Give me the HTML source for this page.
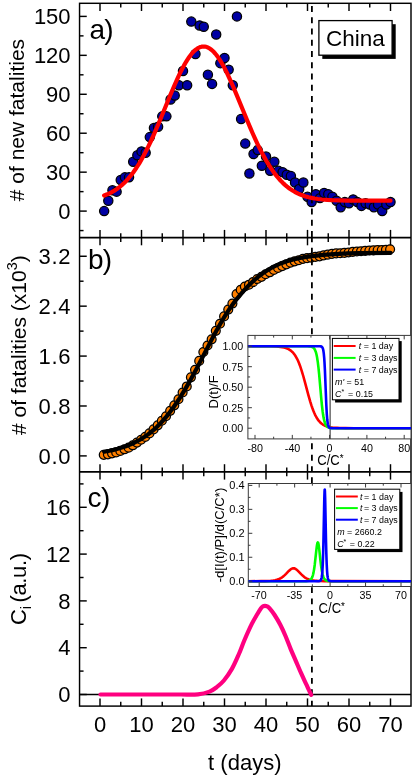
<!DOCTYPE html>
<html>
<head>
<meta charset="utf-8">
<title>China fatalities</title>
<style>
html,body{margin:0;padding:0;background:#fff;}
body{width:415px;height:778px;overflow:hidden;font-family:"Liberation Sans", sans-serif;}
svg{display:block;font-family:"Liberation Sans", sans-serif;will-change:transform;}
svg text{font-family:"Liberation Sans", sans-serif;}
</style>
</head>
<body>
<svg width="415" height="778" viewBox="0 0 415 778">
<rect x="0" y="0" width="415" height="778" fill="#fff"/>
<line x1="79.55" y1="694.5" x2="411" y2="694.5" stroke="#000" stroke-width="1.4" />
<circle cx="104.15" cy="211.1" r="4.62" fill="#0000a4" stroke="#000" stroke-width="1.25"/>
<circle cx="108.3" cy="200.72" r="4.62" fill="#0000a4" stroke="#000" stroke-width="1.25"/>
<circle cx="112.45" cy="190.33" r="4.62" fill="#0000a4" stroke="#000" stroke-width="1.25"/>
<circle cx="116.6" cy="191.63" r="4.62" fill="#0000a4" stroke="#000" stroke-width="1.25"/>
<circle cx="120.75" cy="179.95" r="4.62" fill="#0000a4" stroke="#000" stroke-width="1.25"/>
<circle cx="124.9" cy="177.35" r="4.62" fill="#0000a4" stroke="#000" stroke-width="1.25"/>
<circle cx="129.05" cy="177.35" r="4.62" fill="#0000a4" stroke="#000" stroke-width="1.25"/>
<circle cx="133.2" cy="161.78" r="4.62" fill="#0000a4" stroke="#000" stroke-width="1.25"/>
<circle cx="137.35" cy="155.29" r="4.62" fill="#0000a4" stroke="#000" stroke-width="1.25"/>
<circle cx="141.5" cy="151.39" r="4.62" fill="#0000a4" stroke="#000" stroke-width="1.25"/>
<circle cx="145.65" cy="152.69" r="4.62" fill="#0000a4" stroke="#000" stroke-width="1.25"/>
<circle cx="149.8" cy="137.11" r="4.62" fill="#0000a4" stroke="#000" stroke-width="1.25"/>
<circle cx="153.95" cy="128.03" r="4.62" fill="#0000a4" stroke="#000" stroke-width="1.25"/>
<circle cx="158.1" cy="126.73" r="4.62" fill="#0000a4" stroke="#000" stroke-width="1.25"/>
<circle cx="162.25" cy="116.35" r="4.62" fill="#0000a4" stroke="#000" stroke-width="1.25"/>
<circle cx="166.4" cy="116.35" r="4.62" fill="#0000a4" stroke="#000" stroke-width="1.25"/>
<circle cx="170.55" cy="99.47" r="4.62" fill="#0000a4" stroke="#000" stroke-width="1.25"/>
<circle cx="174.7" cy="95.58" r="4.62" fill="#0000a4" stroke="#000" stroke-width="1.25"/>
<circle cx="178.85" cy="85.19" r="4.62" fill="#0000a4" stroke="#000" stroke-width="1.25"/>
<circle cx="183" cy="70.92" r="4.62" fill="#0000a4" stroke="#000" stroke-width="1.25"/>
<circle cx="187.15" cy="85.19" r="4.62" fill="#0000a4" stroke="#000" stroke-width="1.25"/>
<circle cx="191.3" cy="21.59" r="4.62" fill="#0000a4" stroke="#000" stroke-width="1.25"/>
<circle cx="195.45" cy="54.04" r="4.62" fill="#0000a4" stroke="#000" stroke-width="1.25"/>
<circle cx="199.6" cy="25.49" r="4.62" fill="#0000a4" stroke="#000" stroke-width="1.25"/>
<circle cx="203.75" cy="26.78" r="4.62" fill="#0000a4" stroke="#000" stroke-width="1.25"/>
<circle cx="207.9" cy="74.81" r="4.62" fill="#0000a4" stroke="#000" stroke-width="1.25"/>
<circle cx="212.05" cy="83.9" r="4.62" fill="#0000a4" stroke="#000" stroke-width="1.25"/>
<circle cx="216.2" cy="34.57" r="4.62" fill="#0000a4" stroke="#000" stroke-width="1.25"/>
<circle cx="220.35" cy="63.13" r="4.62" fill="#0000a4" stroke="#000" stroke-width="1.25"/>
<circle cx="224.5" cy="57.94" r="4.62" fill="#0000a4" stroke="#000" stroke-width="1.25"/>
<circle cx="228.65" cy="69.62" r="4.62" fill="#0000a4" stroke="#000" stroke-width="1.25"/>
<circle cx="232.8" cy="85.19" r="4.62" fill="#0000a4" stroke="#000" stroke-width="1.25"/>
<circle cx="236.95" cy="16.4" r="4.62" fill="#0000a4" stroke="#000" stroke-width="1.25"/>
<circle cx="241.1" cy="118.94" r="4.62" fill="#0000a4" stroke="#000" stroke-width="1.25"/>
<circle cx="245.25" cy="143.6" r="4.62" fill="#0000a4" stroke="#000" stroke-width="1.25"/>
<circle cx="249.4" cy="173.46" r="4.62" fill="#0000a4" stroke="#000" stroke-width="1.25"/>
<circle cx="253.55" cy="153.99" r="4.62" fill="#0000a4" stroke="#000" stroke-width="1.25"/>
<circle cx="257.7" cy="150.09" r="4.62" fill="#0000a4" stroke="#000" stroke-width="1.25"/>
<circle cx="261.85" cy="165.67" r="4.62" fill="#0000a4" stroke="#000" stroke-width="1.25"/>
<circle cx="266" cy="156.58" r="4.62" fill="#0000a4" stroke="#000" stroke-width="1.25"/>
<circle cx="270.15" cy="170.86" r="4.62" fill="#0000a4" stroke="#000" stroke-width="1.25"/>
<circle cx="274.3" cy="161.78" r="4.62" fill="#0000a4" stroke="#000" stroke-width="1.25"/>
<circle cx="278.45" cy="170.86" r="4.62" fill="#0000a4" stroke="#000" stroke-width="1.25"/>
<circle cx="282.6" cy="172.16" r="4.62" fill="#0000a4" stroke="#000" stroke-width="1.25"/>
<circle cx="286.75" cy="174.76" r="4.62" fill="#0000a4" stroke="#000" stroke-width="1.25"/>
<circle cx="290.9" cy="176.05" r="4.62" fill="#0000a4" stroke="#000" stroke-width="1.25"/>
<circle cx="295.05" cy="182.54" r="4.62" fill="#0000a4" stroke="#000" stroke-width="1.25"/>
<circle cx="299.2" cy="189.03" r="4.62" fill="#0000a4" stroke="#000" stroke-width="1.25"/>
<circle cx="303.35" cy="182.54" r="4.62" fill="#0000a4" stroke="#000" stroke-width="1.25"/>
<circle cx="307.5" cy="196.82" r="4.62" fill="#0000a4" stroke="#000" stroke-width="1.25"/>
<circle cx="311.65" cy="202.01" r="4.62" fill="#0000a4" stroke="#000" stroke-width="1.25"/>
<circle cx="315.8" cy="194.23" r="4.62" fill="#0000a4" stroke="#000" stroke-width="1.25"/>
<circle cx="319.95" cy="198.12" r="4.62" fill="#0000a4" stroke="#000" stroke-width="1.25"/>
<circle cx="324.1" cy="192.93" r="4.62" fill="#0000a4" stroke="#000" stroke-width="1.25"/>
<circle cx="328.25" cy="194.23" r="4.62" fill="#0000a4" stroke="#000" stroke-width="1.25"/>
<circle cx="332.4" cy="196.82" r="4.62" fill="#0000a4" stroke="#000" stroke-width="1.25"/>
<circle cx="336.55" cy="200.72" r="4.62" fill="#0000a4" stroke="#000" stroke-width="1.25"/>
<circle cx="340.7" cy="207.21" r="4.62" fill="#0000a4" stroke="#000" stroke-width="1.25"/>
<circle cx="344.85" cy="202.01" r="4.62" fill="#0000a4" stroke="#000" stroke-width="1.25"/>
<circle cx="349" cy="203.31" r="4.62" fill="#0000a4" stroke="#000" stroke-width="1.25"/>
<circle cx="353.15" cy="199.42" r="4.62" fill="#0000a4" stroke="#000" stroke-width="1.25"/>
<circle cx="357.3" cy="202.01" r="4.62" fill="#0000a4" stroke="#000" stroke-width="1.25"/>
<circle cx="361.45" cy="205.91" r="4.62" fill="#0000a4" stroke="#000" stroke-width="1.25"/>
<circle cx="365.6" cy="203.31" r="4.62" fill="#0000a4" stroke="#000" stroke-width="1.25"/>
<circle cx="369.75" cy="204.61" r="4.62" fill="#0000a4" stroke="#000" stroke-width="1.25"/>
<circle cx="373.9" cy="207.21" r="4.62" fill="#0000a4" stroke="#000" stroke-width="1.25"/>
<circle cx="378.05" cy="204.61" r="4.62" fill="#0000a4" stroke="#000" stroke-width="1.25"/>
<circle cx="382.2" cy="211.1" r="4.62" fill="#0000a4" stroke="#000" stroke-width="1.25"/>
<circle cx="386.35" cy="204.61" r="4.62" fill="#0000a4" stroke="#000" stroke-width="1.25"/>
<circle cx="390.5" cy="202.01" r="4.62" fill="#0000a4" stroke="#000" stroke-width="1.25"/>
<circle cx="103.75" cy="454.84" r="4.45" fill="#ff8000" stroke="#000" stroke-width="1.25"/>
<circle cx="107.9" cy="454.34" r="4.45" fill="#ff8000" stroke="#000" stroke-width="1.25"/>
<circle cx="112.05" cy="453.34" r="4.45" fill="#ff8000" stroke="#000" stroke-width="1.25"/>
<circle cx="116.2" cy="452.41" r="4.45" fill="#ff8000" stroke="#000" stroke-width="1.25"/>
<circle cx="120.35" cy="450.91" r="4.45" fill="#ff8000" stroke="#000" stroke-width="1.25"/>
<circle cx="124.5" cy="449.29" r="4.45" fill="#ff8000" stroke="#000" stroke-width="1.25"/>
<circle cx="128.65" cy="447.66" r="4.45" fill="#ff8000" stroke="#000" stroke-width="1.25"/>
<circle cx="132.8" cy="445.29" r="4.45" fill="#ff8000" stroke="#000" stroke-width="1.25"/>
<circle cx="136.95" cy="442.61" r="4.45" fill="#ff8000" stroke="#000" stroke-width="1.25"/>
<circle cx="141.1" cy="439.74" r="4.45" fill="#ff8000" stroke="#000" stroke-width="1.25"/>
<circle cx="145.25" cy="436.93" r="4.45" fill="#ff8000" stroke="#000" stroke-width="1.25"/>
<circle cx="149.4" cy="433.38" r="4.45" fill="#ff8000" stroke="#000" stroke-width="1.25"/>
<circle cx="153.55" cy="429.38" r="4.45" fill="#ff8000" stroke="#000" stroke-width="1.25"/>
<circle cx="157.7" cy="425.33" r="4.45" fill="#ff8000" stroke="#000" stroke-width="1.25"/>
<circle cx="161.85" cy="420.77" r="4.45" fill="#ff8000" stroke="#000" stroke-width="1.25"/>
<circle cx="166" cy="416.22" r="4.45" fill="#ff8000" stroke="#000" stroke-width="1.25"/>
<circle cx="170.15" cy="410.85" r="4.45" fill="#ff8000" stroke="#000" stroke-width="1.25"/>
<circle cx="174.3" cy="405.3" r="4.45" fill="#ff8000" stroke="#000" stroke-width="1.25"/>
<circle cx="178.45" cy="399.25" r="4.45" fill="#ff8000" stroke="#000" stroke-width="1.25"/>
<circle cx="182.6" cy="392.51" r="4.45" fill="#ff8000" stroke="#000" stroke-width="1.25"/>
<circle cx="186.75" cy="386.46" r="4.45" fill="#ff8000" stroke="#000" stroke-width="1.25"/>
<circle cx="190.9" cy="377.35" r="4.45" fill="#ff8000" stroke="#000" stroke-width="1.25"/>
<circle cx="195.05" cy="369.8" r="4.45" fill="#ff8000" stroke="#000" stroke-width="1.25"/>
<circle cx="199.2" cy="360.88" r="4.45" fill="#ff8000" stroke="#000" stroke-width="1.25"/>
<circle cx="203.35" cy="352.02" r="4.45" fill="#ff8000" stroke="#000" stroke-width="1.25"/>
<circle cx="207.5" cy="345.47" r="4.45" fill="#ff8000" stroke="#000" stroke-width="1.25"/>
<circle cx="211.65" cy="339.36" r="4.45" fill="#ff8000" stroke="#000" stroke-width="1.25"/>
<circle cx="215.8" cy="330.87" r="4.45" fill="#ff8000" stroke="#000" stroke-width="1.25"/>
<circle cx="219.95" cy="323.76" r="4.45" fill="#ff8000" stroke="#000" stroke-width="1.25"/>
<circle cx="224.1" cy="316.4" r="4.45" fill="#ff8000" stroke="#000" stroke-width="1.25"/>
<circle cx="228.25" cy="309.6" r="4.45" fill="#ff8000" stroke="#000" stroke-width="1.25"/>
<circle cx="232.4" cy="303.54" r="4.45" fill="#ff8000" stroke="#000" stroke-width="1.25"/>
<circle cx="236.55" cy="294.19" r="4.45" fill="#ff8000" stroke="#000" stroke-width="1.25"/>
<circle cx="240.7" cy="289.76" r="4.45" fill="#ff8000" stroke="#000" stroke-width="1.25"/>
<circle cx="244.85" cy="286.51" r="4.45" fill="#ff8000" stroke="#000" stroke-width="1.25"/>
<circle cx="249" cy="284.7" r="4.45" fill="#ff8000" stroke="#000" stroke-width="1.25"/>
<circle cx="253.15" cy="281.96" r="4.45" fill="#ff8000" stroke="#000" stroke-width="1.25"/>
<circle cx="257.3" cy="279.02" r="4.45" fill="#ff8000" stroke="#000" stroke-width="1.25"/>
<circle cx="261.45" cy="276.84" r="4.45" fill="#ff8000" stroke="#000" stroke-width="1.25"/>
<circle cx="265.6" cy="274.22" r="4.45" fill="#ff8000" stroke="#000" stroke-width="1.25"/>
<circle cx="269.75" cy="272.29" r="4.45" fill="#ff8000" stroke="#000" stroke-width="1.25"/>
<circle cx="273.9" cy="269.92" r="4.45" fill="#ff8000" stroke="#000" stroke-width="1.25"/>
<circle cx="278.05" cy="267.98" r="4.45" fill="#ff8000" stroke="#000" stroke-width="1.25"/>
<circle cx="282.2" cy="266.11" r="4.45" fill="#ff8000" stroke="#000" stroke-width="1.25"/>
<circle cx="286.35" cy="264.36" r="4.45" fill="#ff8000" stroke="#000" stroke-width="1.25"/>
<circle cx="290.5" cy="262.68" r="4.45" fill="#ff8000" stroke="#000" stroke-width="1.25"/>
<circle cx="294.65" cy="261.31" r="4.45" fill="#ff8000" stroke="#000" stroke-width="1.25"/>
<circle cx="298.8" cy="260.24" r="4.45" fill="#ff8000" stroke="#000" stroke-width="1.25"/>
<circle cx="302.95" cy="258.87" r="4.45" fill="#ff8000" stroke="#000" stroke-width="1.25"/>
<circle cx="307.1" cy="258.19" r="4.45" fill="#ff8000" stroke="#000" stroke-width="1.25"/>
<circle cx="311.25" cy="257.75" r="4.45" fill="#ff8000" stroke="#000" stroke-width="1.25"/>
<circle cx="315.4" cy="256.94" r="4.45" fill="#ff8000" stroke="#000" stroke-width="1.25"/>
<circle cx="319.55" cy="256.31" r="4.45" fill="#ff8000" stroke="#000" stroke-width="1.25"/>
<circle cx="323.7" cy="255.44" r="4.45" fill="#ff8000" stroke="#000" stroke-width="1.25"/>
<circle cx="327.85" cy="254.63" r="4.45" fill="#ff8000" stroke="#000" stroke-width="1.25"/>
<circle cx="332" cy="253.94" r="4.45" fill="#ff8000" stroke="#000" stroke-width="1.25"/>
<circle cx="336.15" cy="253.44" r="4.45" fill="#ff8000" stroke="#000" stroke-width="1.25"/>
<circle cx="340.3" cy="253.26" r="4.45" fill="#ff8000" stroke="#000" stroke-width="1.25"/>
<circle cx="344.45" cy="252.82" r="4.45" fill="#ff8000" stroke="#000" stroke-width="1.25"/>
<circle cx="348.6" cy="252.45" r="4.45" fill="#ff8000" stroke="#000" stroke-width="1.25"/>
<circle cx="352.75" cy="251.88" r="4.45" fill="#ff8000" stroke="#000" stroke-width="1.25"/>
<circle cx="356.9" cy="251.45" r="4.45" fill="#ff8000" stroke="#000" stroke-width="1.25"/>
<circle cx="361.05" cy="251.2" r="4.45" fill="#ff8000" stroke="#000" stroke-width="1.25"/>
<circle cx="365.2" cy="250.82" r="4.45" fill="#ff8000" stroke="#000" stroke-width="1.25"/>
<circle cx="369.35" cy="250.51" r="4.45" fill="#ff8000" stroke="#000" stroke-width="1.25"/>
<circle cx="373.5" cy="250.32" r="4.45" fill="#ff8000" stroke="#000" stroke-width="1.25"/>
<circle cx="377.65" cy="250.01" r="4.45" fill="#ff8000" stroke="#000" stroke-width="1.25"/>
<circle cx="381.8" cy="250.01" r="4.45" fill="#ff8000" stroke="#000" stroke-width="1.25"/>
<circle cx="385.95" cy="249.7" r="4.45" fill="#ff8000" stroke="#000" stroke-width="1.25"/>
<circle cx="390.1" cy="249.26" r="4.45" fill="#ff8000" stroke="#000" stroke-width="1.25"/>
<polyline points="104.15,451.71 109.34,450.76 113.49,449.86 117.64,448.81 121.79,447.6 125.94,446.19 130.09,444.58 134.24,442.72 137.35,441.14 139.43,440 141.5,438.78 144.61,436.8 147.72,434.62 150.84,432.22 153.95,429.59 157.06,426.72 160.18,423.6 163.29,420.22 166.4,416.57 168.48,413.99 170.55,411.28 173.66,407.01 176.78,402.52 179.89,397.79 181.96,394.49 185.07,389.35 189.23,382.17 194.41,372.75 198.56,364.9 211.01,340.89 214.12,335.02 217.24,329.3 220.35,323.75 223.46,318.44 226.58,313.41 229.69,308.7 231.76,305.72 233.84,302.86 236.95,298.81 240.06,295.06 243.18,291.47 245.25,289.14 247.33,286.91 249.4,284.78 251.48,282.75 253.55,280.82 255.62,278.98 257.7,277.25 259.77,275.6 261.85,274.05 263.93,272.56 267.04,270.49 269.11,269.2 271.19,267.98 273.26,266.85 275.34,265.79 277.41,264.81 279.49,263.91 282.6,262.7 284.68,261.97 287.79,260.98 290.9,260.09 294.01,259.31 297.12,258.61 300.24,257.99 306.46,256.93 310.61,256.33 314.76,255.8 323.06,254.89 330.33,254.3 338.62,253.82 347.96,253.46 359.38,253.17 390.5,252.86" fill="none" stroke="#000" stroke-width="4.2" stroke-linejoin="round" stroke-linecap="round"/>
<path d="M311.9,6.1V11.9 M311.9,17.35V23.15 M311.9,28.6V34.4 M311.9,39.85V45.65 M311.9,51.1V56.9 M311.9,62.35V68.15 M311.9,73.6V79.4 M311.9,84.85V90.65 M311.9,96.1V101.9 M311.9,107.35V113.15 M311.9,118.6V124.4 M311.9,129.85V135.65 M311.9,141.1V146.9 M311.9,152.35V158.15 M311.9,163.6V169.4 M311.9,174.85V180.65 M311.9,186.1V191.9 M311.9,197.35V203.15 M311.9,208.6V214.4 M311.9,219.85V225.65 M311.9,231.1V236.9 M311.9,236.3V242.3 M311.9,247.8V253.8 M311.9,259.3V265.3 M311.9,270.8V276.8 M311.9,282.3V288.3 M311.9,293.8V299.8 M311.9,305.3V311.3 M311.9,316.8V322.8 M311.9,328.3V334.3 M311.9,339.8V345.8 M311.9,351.3V357.3 M311.9,362.8V368.8 M311.9,374.3V380.3 M311.9,385.8V391.8 M311.9,397.3V403.3 M311.9,408.8V414.8 M311.9,420.3V426.3 M311.9,431.8V437.8 M311.9,443.3V449.3 M311.9,454.8V460.8 M311.9,466.3V472 M311.9,477.3V483.2 M311.9,587.2V593 M311.9,598.55V604.35 M311.9,609.9V615.7 M311.9,621.25V627.05 M311.9,632.6V638.4 M311.9,643.95V649.75 M311.9,655.3V661.1 M311.9,666.65V672.45 M311.9,678V683.8 M311.9,689.35V695.15 M311.9,700.7V706.1" stroke="#000" stroke-width="1.8" fill="none"/>
<polyline points="104.15,195.51 107.26,194.3 109.34,193.37 111.41,192.33 113.49,191.17 115.56,189.88 117.64,188.45 119.71,186.87 121.79,185.14 123.86,183.24 125.94,181.17 128.01,178.92 129.05,177.73 131.12,175.2 133.2,172.47 136.31,168 139.43,163.07 141.5,159.54 143.57,155.8 146.69,149.83 148.76,145.63 150.84,141.25 153.95,134.38 158.1,124.77 161.21,117.31 170.55,94.56 174.7,84.79 177.81,77.84 179.89,73.44 181.96,69.28 184.04,65.38 186.11,61.77 187.15,60.09 189.23,56.98 191.3,54.24 192.34,53.01 193.38,51.89 194.41,50.86 195.45,49.94 196.49,49.12 197.53,48.42 198.56,47.82 199.6,47.33 200.64,46.96 201.68,46.7 202.71,46.55 203.75,46.52 204.79,46.6 205.82,46.79 206.86,47.1 207.9,47.51 208.94,48.05 209.98,48.69 211.01,49.44 212.05,50.29 213.09,51.26 214.12,52.32 215.16,53.49 216.2,54.76 218.28,57.58 219.31,59.12 221.39,62.47 223.46,66.14 225.54,70.09 227.61,74.3 230.73,81.04 232.8,85.75 235.91,93.07 247.33,120.82 250.44,128.19 252.51,132.97 255.62,139.9 257.7,144.33 260.81,150.65 262.89,154.64 266,160.26 269.11,165.43 271.19,168.62 274.3,173.03 275.34,174.4 277.41,176.99 278.45,178.21 280.52,180.52 281.56,181.6 283.64,183.64 284.68,184.59 286.75,186.37 287.79,187.2 289.86,188.74 292.98,190.79 296.09,192.55 298.16,193.56 300.24,194.47 302.31,195.29 304.39,196 306.46,196.64 308.54,197.2 312.69,198.12 314.76,198.5 317.88,198.97 322.02,199.47 327.21,199.9 333.44,200.24 339.66,200.45 346.93,200.58 356.26,200.66 390.5,200.72" fill="none" stroke="#f00" stroke-width="4.2" stroke-linejoin="round" stroke-linecap="round"/>
<path d="M100.5,694.5 C108.75,694.5 136.75,694.5 150,694.5 C163.25,694.5 172,694.53 180,694.5 C188,694.47 193.08,694.78 198,694.3 C202.92,693.82 206.38,692.78 209.5,691.6 C212.62,690.42 214.3,689.05 216.7,687.2 C219.1,685.35 221.37,683.55 223.9,680.5 C226.43,677.45 229.43,673.23 231.9,668.9 C234.37,664.57 236.6,659.32 238.7,654.5 C240.8,649.68 242.32,645.1 244.5,640 C246.68,634.9 249.65,628.23 251.8,623.9 C253.95,619.57 255.87,616.62 257.4,614 C258.93,611.38 260.07,609.47 261,608.2 C261.93,606.93 262.35,606.8 263,606.4 C263.65,606 264.23,605.82 264.9,605.8 C265.57,605.78 266.22,605.87 267,606.3 C267.78,606.73 268.33,606.95 269.6,608.4 C270.87,609.85 272.82,612.27 274.6,615 C276.38,617.73 278.48,621.3 280.3,624.8 C282.12,628.3 283.77,631.95 285.5,636 C287.23,640.05 288.97,644.92 290.7,649.1 C292.43,653.28 294.17,657.08 295.9,661.1 C297.63,665.12 299.3,669.18 301.1,673.2 C302.9,677.22 305.02,681.58 306.7,685.2 C308.38,688.82 310.45,693.28 311.2,694.9" fill="none" stroke="#ff0080" stroke-width="4.2" stroke-linecap="round" stroke-linejoin="round"/>
<rect x="79.55" y="3.3" width="331.45" height="702.8" fill="none" stroke="#000" stroke-width="1.45"/>
<line x1="79.55" y1="237.6" x2="411" y2="237.6" stroke="#000" stroke-width="1.8" />
<line x1="79.55" y1="471.9" x2="411" y2="471.9" stroke="#000" stroke-width="1.8" />
<line x1="100" y1="3.3" x2="100" y2="11" stroke="#000" stroke-width="1.45" />
<line x1="100" y1="229.9" x2="100" y2="245.3" stroke="#000" stroke-width="1.45" />
<line x1="100" y1="464.2" x2="100" y2="479.6" stroke="#000" stroke-width="1.45" />
<line x1="100" y1="698.4" x2="100" y2="706.1" stroke="#000" stroke-width="1.45" />
<text x="100" y="732" font-size="22" text-anchor="middle" fill="#000" >0</text>
<line x1="120.75" y1="3.3" x2="120.75" y2="7.6" stroke="#000" stroke-width="1.45" />
<line x1="120.75" y1="233.3" x2="120.75" y2="241.9" stroke="#000" stroke-width="1.45" />
<line x1="120.75" y1="467.6" x2="120.75" y2="476.2" stroke="#000" stroke-width="1.45" />
<line x1="120.75" y1="701.8" x2="120.75" y2="706.1" stroke="#000" stroke-width="1.45" />
<line x1="141.5" y1="3.3" x2="141.5" y2="11" stroke="#000" stroke-width="1.45" />
<line x1="141.5" y1="229.9" x2="141.5" y2="245.3" stroke="#000" stroke-width="1.45" />
<line x1="141.5" y1="464.2" x2="141.5" y2="479.6" stroke="#000" stroke-width="1.45" />
<line x1="141.5" y1="698.4" x2="141.5" y2="706.1" stroke="#000" stroke-width="1.45" />
<text x="141.5" y="732" font-size="22" text-anchor="middle" fill="#000" >10</text>
<line x1="162.25" y1="3.3" x2="162.25" y2="7.6" stroke="#000" stroke-width="1.45" />
<line x1="162.25" y1="233.3" x2="162.25" y2="241.9" stroke="#000" stroke-width="1.45" />
<line x1="162.25" y1="467.6" x2="162.25" y2="476.2" stroke="#000" stroke-width="1.45" />
<line x1="162.25" y1="701.8" x2="162.25" y2="706.1" stroke="#000" stroke-width="1.45" />
<line x1="183" y1="3.3" x2="183" y2="11" stroke="#000" stroke-width="1.45" />
<line x1="183" y1="229.9" x2="183" y2="245.3" stroke="#000" stroke-width="1.45" />
<line x1="183" y1="464.2" x2="183" y2="479.6" stroke="#000" stroke-width="1.45" />
<line x1="183" y1="698.4" x2="183" y2="706.1" stroke="#000" stroke-width="1.45" />
<text x="183" y="732" font-size="22" text-anchor="middle" fill="#000" >20</text>
<line x1="203.75" y1="3.3" x2="203.75" y2="7.6" stroke="#000" stroke-width="1.45" />
<line x1="203.75" y1="233.3" x2="203.75" y2="241.9" stroke="#000" stroke-width="1.45" />
<line x1="203.75" y1="467.6" x2="203.75" y2="476.2" stroke="#000" stroke-width="1.45" />
<line x1="203.75" y1="701.8" x2="203.75" y2="706.1" stroke="#000" stroke-width="1.45" />
<line x1="224.5" y1="3.3" x2="224.5" y2="11" stroke="#000" stroke-width="1.45" />
<line x1="224.5" y1="229.9" x2="224.5" y2="245.3" stroke="#000" stroke-width="1.45" />
<line x1="224.5" y1="464.2" x2="224.5" y2="479.6" stroke="#000" stroke-width="1.45" />
<line x1="224.5" y1="698.4" x2="224.5" y2="706.1" stroke="#000" stroke-width="1.45" />
<text x="224.5" y="732" font-size="22" text-anchor="middle" fill="#000" >30</text>
<line x1="245.25" y1="3.3" x2="245.25" y2="7.6" stroke="#000" stroke-width="1.45" />
<line x1="245.25" y1="233.3" x2="245.25" y2="241.9" stroke="#000" stroke-width="1.45" />
<line x1="245.25" y1="467.6" x2="245.25" y2="476.2" stroke="#000" stroke-width="1.45" />
<line x1="245.25" y1="701.8" x2="245.25" y2="706.1" stroke="#000" stroke-width="1.45" />
<line x1="266" y1="3.3" x2="266" y2="11" stroke="#000" stroke-width="1.45" />
<line x1="266" y1="229.9" x2="266" y2="245.3" stroke="#000" stroke-width="1.45" />
<line x1="266" y1="464.2" x2="266" y2="479.6" stroke="#000" stroke-width="1.45" />
<line x1="266" y1="698.4" x2="266" y2="706.1" stroke="#000" stroke-width="1.45" />
<text x="266" y="732" font-size="22" text-anchor="middle" fill="#000" >40</text>
<line x1="286.75" y1="3.3" x2="286.75" y2="7.6" stroke="#000" stroke-width="1.45" />
<line x1="286.75" y1="233.3" x2="286.75" y2="241.9" stroke="#000" stroke-width="1.45" />
<line x1="286.75" y1="467.6" x2="286.75" y2="476.2" stroke="#000" stroke-width="1.45" />
<line x1="286.75" y1="701.8" x2="286.75" y2="706.1" stroke="#000" stroke-width="1.45" />
<line x1="307.5" y1="3.3" x2="307.5" y2="11" stroke="#000" stroke-width="1.45" />
<line x1="307.5" y1="229.9" x2="307.5" y2="245.3" stroke="#000" stroke-width="1.45" />
<line x1="307.5" y1="464.2" x2="307.5" y2="479.6" stroke="#000" stroke-width="1.45" />
<line x1="307.5" y1="698.4" x2="307.5" y2="706.1" stroke="#000" stroke-width="1.45" />
<text x="307.5" y="732" font-size="22" text-anchor="middle" fill="#000" >50</text>
<line x1="328.25" y1="3.3" x2="328.25" y2="7.6" stroke="#000" stroke-width="1.45" />
<line x1="328.25" y1="233.3" x2="328.25" y2="241.9" stroke="#000" stroke-width="1.45" />
<line x1="328.25" y1="467.6" x2="328.25" y2="476.2" stroke="#000" stroke-width="1.45" />
<line x1="328.25" y1="701.8" x2="328.25" y2="706.1" stroke="#000" stroke-width="1.45" />
<line x1="349" y1="3.3" x2="349" y2="11" stroke="#000" stroke-width="1.45" />
<line x1="349" y1="229.9" x2="349" y2="245.3" stroke="#000" stroke-width="1.45" />
<line x1="349" y1="464.2" x2="349" y2="479.6" stroke="#000" stroke-width="1.45" />
<line x1="349" y1="698.4" x2="349" y2="706.1" stroke="#000" stroke-width="1.45" />
<text x="349" y="732" font-size="22" text-anchor="middle" fill="#000" >60</text>
<line x1="369.75" y1="3.3" x2="369.75" y2="7.6" stroke="#000" stroke-width="1.45" />
<line x1="369.75" y1="233.3" x2="369.75" y2="241.9" stroke="#000" stroke-width="1.45" />
<line x1="369.75" y1="467.6" x2="369.75" y2="476.2" stroke="#000" stroke-width="1.45" />
<line x1="369.75" y1="701.8" x2="369.75" y2="706.1" stroke="#000" stroke-width="1.45" />
<line x1="390.5" y1="3.3" x2="390.5" y2="11" stroke="#000" stroke-width="1.45" />
<line x1="390.5" y1="229.9" x2="390.5" y2="245.3" stroke="#000" stroke-width="1.45" />
<line x1="390.5" y1="464.2" x2="390.5" y2="479.6" stroke="#000" stroke-width="1.45" />
<line x1="390.5" y1="698.4" x2="390.5" y2="706.1" stroke="#000" stroke-width="1.45" />
<text x="390.5" y="732" font-size="22" text-anchor="middle" fill="#000" >70</text>
<line x1="79.55" y1="211.1" x2="86.75" y2="211.1" stroke="#000" stroke-width="1.45" />
<text x="70.6" y="218.8" font-size="22" text-anchor="end" fill="#000" >0</text>
<line x1="79.55" y1="172.16" x2="86.75" y2="172.16" stroke="#000" stroke-width="1.45" />
<text x="70.6" y="179.86" font-size="22" text-anchor="end" fill="#000" >30</text>
<line x1="79.55" y1="133.22" x2="86.75" y2="133.22" stroke="#000" stroke-width="1.45" />
<text x="70.6" y="140.92" font-size="22" text-anchor="end" fill="#000" >60</text>
<line x1="79.55" y1="94.28" x2="86.75" y2="94.28" stroke="#000" stroke-width="1.45" />
<text x="70.6" y="101.98" font-size="22" text-anchor="end" fill="#000" >90</text>
<line x1="79.55" y1="55.34" x2="86.75" y2="55.34" stroke="#000" stroke-width="1.45" />
<text x="70.6" y="63.04" font-size="22" text-anchor="end" fill="#000" >120</text>
<line x1="79.55" y1="16.4" x2="86.75" y2="16.4" stroke="#000" stroke-width="1.45" />
<text x="70.6" y="24.1" font-size="22" text-anchor="end" fill="#000" >150</text>
<line x1="79.55" y1="230.57" x2="83.55" y2="230.57" stroke="#000" stroke-width="1.45" />
<line x1="79.55" y1="191.63" x2="83.55" y2="191.63" stroke="#000" stroke-width="1.45" />
<line x1="79.55" y1="152.69" x2="83.55" y2="152.69" stroke="#000" stroke-width="1.45" />
<line x1="79.55" y1="113.75" x2="83.55" y2="113.75" stroke="#000" stroke-width="1.45" />
<line x1="79.55" y1="74.81" x2="83.55" y2="74.81" stroke="#000" stroke-width="1.45" />
<line x1="79.55" y1="35.87" x2="83.55" y2="35.87" stroke="#000" stroke-width="1.45" />
<line x1="79.55" y1="455.9" x2="86.75" y2="455.9" stroke="#000" stroke-width="1.45" />
<text x="71.4" y="463.6" font-size="22" text-anchor="end" fill="#000" letter-spacing="0.8">0.0</text>
<line x1="79.55" y1="405.99" x2="86.75" y2="405.99" stroke="#000" stroke-width="1.45" />
<text x="71.4" y="413.69" font-size="22" text-anchor="end" fill="#000" letter-spacing="0.8">0.8</text>
<line x1="79.55" y1="356.08" x2="86.75" y2="356.08" stroke="#000" stroke-width="1.45" />
<text x="71.4" y="363.78" font-size="22" text-anchor="end" fill="#000" letter-spacing="0.8">1.6</text>
<line x1="79.55" y1="306.16" x2="86.75" y2="306.16" stroke="#000" stroke-width="1.45" />
<text x="71.4" y="313.86" font-size="22" text-anchor="end" fill="#000" letter-spacing="0.8">2.4</text>
<line x1="79.55" y1="256.25" x2="86.75" y2="256.25" stroke="#000" stroke-width="1.45" />
<text x="71.4" y="263.95" font-size="22" text-anchor="end" fill="#000" letter-spacing="0.8">3.2</text>
<line x1="79.55" y1="430.94" x2="83.55" y2="430.94" stroke="#000" stroke-width="1.45" />
<line x1="79.55" y1="381.03" x2="83.55" y2="381.03" stroke="#000" stroke-width="1.45" />
<line x1="79.55" y1="331.12" x2="83.55" y2="331.12" stroke="#000" stroke-width="1.45" />
<line x1="79.55" y1="281.21" x2="83.55" y2="281.21" stroke="#000" stroke-width="1.45" />
<line x1="79.55" y1="694.5" x2="86.75" y2="694.5" stroke="#000" stroke-width="1.45" />
<text x="70.6" y="702.2" font-size="22" text-anchor="end" fill="#000" >0</text>
<line x1="79.55" y1="647.7" x2="86.75" y2="647.7" stroke="#000" stroke-width="1.45" />
<text x="70.6" y="655.4" font-size="22" text-anchor="end" fill="#000" >4</text>
<line x1="79.55" y1="600.9" x2="86.75" y2="600.9" stroke="#000" stroke-width="1.45" />
<text x="70.6" y="608.6" font-size="22" text-anchor="end" fill="#000" >8</text>
<line x1="79.55" y1="554.1" x2="86.75" y2="554.1" stroke="#000" stroke-width="1.45" />
<text x="70.6" y="561.8" font-size="22" text-anchor="end" fill="#000" >12</text>
<line x1="79.55" y1="507.3" x2="86.75" y2="507.3" stroke="#000" stroke-width="1.45" />
<text x="70.6" y="515" font-size="22" text-anchor="end" fill="#000" >16</text>
<line x1="79.55" y1="671.1" x2="83.55" y2="671.1" stroke="#000" stroke-width="1.45" />
<line x1="79.55" y1="624.3" x2="83.55" y2="624.3" stroke="#000" stroke-width="1.45" />
<line x1="79.55" y1="577.5" x2="83.55" y2="577.5" stroke="#000" stroke-width="1.45" />
<line x1="79.55" y1="530.7" x2="83.55" y2="530.7" stroke="#000" stroke-width="1.45" />
<line x1="79.55" y1="483.9" x2="83.55" y2="483.9" stroke="#000" stroke-width="1.45" />
<text x="244.8" y="770" font-size="22" text-anchor="middle" fill="#000" >t (days)</text>
<text transform="translate(24.2,201.2) rotate(-90)" font-size="21"># of new fatalities</text>
<text transform="translate(25.6,434.9) rotate(-90)" font-size="21"># of fatalities (x10<tspan font-size="14.5" dy="-8.6">3</tspan><tspan dy="8.6">)</tspan></text>
<text transform="translate(25.9,624.9) rotate(-90)" font-size="22" letter-spacing="-0.35">C<tspan font-size="14.5" dy="5">i</tspan><tspan dy="-5" dx="-1.8"> (a.u.)</tspan></text>
<text x="89.4" y="38.7" font-size="28" text-anchor="start" fill="#000" letter-spacing="-0.6">a)</text>
<text x="87.9" y="269" font-size="28" text-anchor="start" fill="#000" letter-spacing="-0.6">b)</text>
<text x="87.5" y="507.2" font-size="28" text-anchor="start" fill="#000" letter-spacing="-0.6">c)</text>
<rect x="322.3" y="24.2" width="73.4" height="34.7" fill="#000"/>
<rect x="318.9" y="20.6" width="73.2" height="34.6" fill="#fff" stroke="#000" stroke-width="1.3"/>
<text x="355.4" y="45.9" font-size="22.5" text-anchor="middle" fill="#000" >China</text>
<rect x="247.9" y="335.4" width="163.1" height="103.5" fill="#fff" stroke="#3a3a3a" stroke-width="1"/>
<clipPath id="c1"><rect x="247.9" y="335.4" width="163.1" height="103.5"/></clipPath>
<line x1="330.1" y1="335.4" x2="330.1" y2="438.9" stroke="#222" stroke-width="1" />
<polyline points="245.68,346.2 261.99,346.22 270.39,346.31 276.21,346.51 278.55,346.68 280.41,346.88 282.28,347.16 284.14,347.54 285.77,348.01 287.17,348.52 288.57,349.19 289.97,350.03 291.13,350.89 292.3,351.94 293.47,353.21 294.4,354.39 295.33,355.75 296.26,357.31 297.2,359.07 298.13,361.05 299.06,363.27 299.99,365.71 301.62,370.55 303.26,376 304.66,381.06 308.39,395.05 310.25,401.58 311.42,405.3 312.35,408.04 313.28,410.54 314.21,412.81 315.38,415.33 316.55,417.5 317.71,419.35 318.88,420.91 320.04,422.22 321.44,423.51 322.84,424.53 324.47,425.45 325.87,426.06 327.27,426.54 328.9,426.97 330.53,427.28 332.4,427.55 334.5,427.76 337.06,427.92 339.86,428.04 345.45,428.14 354.08,428.19 413.53,428.2" fill="none" stroke="#f00" stroke-width="2.6" stroke-linejoin="round" clip-path="url(#c1)"/>
<polyline points="245.68,346.2 301.16,346.2 307.45,346.25 309.78,346.39 310.72,346.53 311.42,346.69 312.12,346.94 312.81,347.3 313.28,347.63 313.75,348.06 314.45,348.95 314.91,349.76 315.61,351.42 316.08,352.9 316.55,354.75 317.01,357.04 317.71,361.42 318.41,367.06 319.11,373.92 321.21,397.96 321.91,405.18 322.61,411.24 323.07,414.57 323.54,417.36 324,419.65 324.47,421.5 324.94,422.98 325.4,424.15 325.87,425.07 326.57,426.08 327.27,426.77 327.74,427.1 328.2,427.36 329.13,427.71 330.53,427.98 332.4,428.12 334.96,428.18 413.53,428.2" fill="none" stroke="#0f0" stroke-width="2.6" stroke-linejoin="round" clip-path="url(#c1)"/>
<polyline points="245.68,346.2 318.41,346.21 319.81,346.25 320.74,346.36 321.44,346.58 321.91,346.9 322.37,347.46 322.61,347.9 322.84,348.48 323.07,349.25 323.31,350.27 323.77,353.34 324.24,358.37 324.47,361.83 324.94,370.87 326.34,405.56 326.8,414.03 327.27,419.79 327.74,423.37 327.97,424.57 328.2,425.48 328.43,426.17 328.9,427.08 329.37,427.58 329.83,427.86 330.3,428.01 331,428.12 333.56,428.2 413.53,428.2" fill="none" stroke="#00f" stroke-width="2.6" stroke-linejoin="round" clip-path="url(#c1)"/>
<line x1="247.9" y1="428.2" x2="251.9" y2="428.2" stroke="#3a3a3a" stroke-width="1" />
<text x="243.2" y="432" font-size="10.7" text-anchor="end" fill="#000" >0.00</text>
<line x1="247.9" y1="407.7" x2="251.9" y2="407.7" stroke="#3a3a3a" stroke-width="1" />
<text x="243.2" y="411.5" font-size="10.7" text-anchor="end" fill="#000" >0.25</text>
<line x1="247.9" y1="387.2" x2="251.9" y2="387.2" stroke="#3a3a3a" stroke-width="1" />
<text x="243.2" y="391" font-size="10.7" text-anchor="end" fill="#000" >0.50</text>
<line x1="247.9" y1="366.7" x2="251.9" y2="366.7" stroke="#3a3a3a" stroke-width="1" />
<text x="243.2" y="370.5" font-size="10.7" text-anchor="end" fill="#000" >0.75</text>
<line x1="247.9" y1="346.2" x2="251.9" y2="346.2" stroke="#3a3a3a" stroke-width="1" />
<text x="243.2" y="350" font-size="10.7" text-anchor="end" fill="#000" >1.00</text>
<line x1="247.9" y1="417.95" x2="250.1" y2="417.95" stroke="#3a3a3a" stroke-width="1" />
<line x1="247.9" y1="397.45" x2="250.1" y2="397.45" stroke="#3a3a3a" stroke-width="1" />
<line x1="247.9" y1="376.95" x2="250.1" y2="376.95" stroke="#3a3a3a" stroke-width="1" />
<line x1="247.9" y1="356.45" x2="250.1" y2="356.45" stroke="#3a3a3a" stroke-width="1" />
<line x1="255" y1="438.9" x2="255" y2="434.9" stroke="#3a3a3a" stroke-width="1" />
<line x1="255" y1="335.4" x2="255" y2="339.4" stroke="#3a3a3a" stroke-width="1" />
<text x="255.3" y="451.8" font-size="10.7" text-anchor="middle" fill="#000" >-80</text>
<line x1="292.3" y1="438.9" x2="292.3" y2="434.9" stroke="#3a3a3a" stroke-width="1" />
<line x1="292.3" y1="335.4" x2="292.3" y2="339.4" stroke="#3a3a3a" stroke-width="1" />
<text x="292.6" y="451.8" font-size="10.7" text-anchor="middle" fill="#000" >-40</text>
<line x1="329.6" y1="438.9" x2="329.6" y2="434.9" stroke="#3a3a3a" stroke-width="1" />
<line x1="329.6" y1="335.4" x2="329.6" y2="339.4" stroke="#3a3a3a" stroke-width="1" />
<text x="329.6" y="451.8" font-size="10.7" text-anchor="middle" fill="#000" >0</text>
<line x1="366.9" y1="438.9" x2="366.9" y2="434.9" stroke="#3a3a3a" stroke-width="1" />
<line x1="366.9" y1="335.4" x2="366.9" y2="339.4" stroke="#3a3a3a" stroke-width="1" />
<text x="366.9" y="451.8" font-size="10.7" text-anchor="middle" fill="#000" >40</text>
<line x1="404.2" y1="438.9" x2="404.2" y2="434.9" stroke="#3a3a3a" stroke-width="1" />
<line x1="404.2" y1="335.4" x2="404.2" y2="339.4" stroke="#3a3a3a" stroke-width="1" />
<text x="404.2" y="451.8" font-size="10.7" text-anchor="middle" fill="#000" >80</text>
<line x1="273.65" y1="438.9" x2="273.65" y2="436.7" stroke="#3a3a3a" stroke-width="1" />
<line x1="273.65" y1="335.4" x2="273.65" y2="337.6" stroke="#3a3a3a" stroke-width="1" />
<line x1="310.95" y1="438.9" x2="310.95" y2="436.7" stroke="#3a3a3a" stroke-width="1" />
<line x1="310.95" y1="335.4" x2="310.95" y2="337.6" stroke="#3a3a3a" stroke-width="1" />
<line x1="348.25" y1="438.9" x2="348.25" y2="436.7" stroke="#3a3a3a" stroke-width="1" />
<line x1="348.25" y1="335.4" x2="348.25" y2="337.6" stroke="#3a3a3a" stroke-width="1" />
<line x1="385.55" y1="438.9" x2="385.55" y2="436.7" stroke="#3a3a3a" stroke-width="1" />
<line x1="385.55" y1="335.4" x2="385.55" y2="337.6" stroke="#3a3a3a" stroke-width="1" />
<text transform="translate(317.3,464.9) scale(0.9,1)" font-size="14.5">C/C<tspan font-size="11" dy="-2.6">*</tspan></text>
<text transform="translate(217.8,408.4) rotate(-90)" font-size="13">D(t)/F</text>
<rect x="335.1" y="341.1" width="66.6" height="61.4" fill="#000"/>
<rect x="332.4" y="338.4" width="66.6" height="61.4" fill="#fff" stroke="#000" stroke-width="1"/>
<line x1="333.7" y1="346" x2="355.6" y2="346" stroke="#f00" stroke-width="2" />
<text x="358.8" y="349.2" font-size="8.9"><tspan font-style="italic">t</tspan> <tspan dx="0">= 1 day</tspan></text>
<line x1="333.7" y1="357.9" x2="355.6" y2="357.9" stroke="#0f0" stroke-width="2" />
<text x="358.8" y="361.1" font-size="8.9"><tspan font-style="italic">t</tspan> <tspan dx="0">= 3 days</tspan></text>
<line x1="333.7" y1="369.6" x2="355.6" y2="369.6" stroke="#00f" stroke-width="2" />
<text x="358.8" y="372.8" font-size="8.9"><tspan font-style="italic">t</tspan> <tspan dx="0">= 7 days</tspan></text>
<text x="335" y="385.1" font-size="8.9"><tspan font-style="italic">m'</tspan> = 51</text>
<text x="335" y="396.5" font-size="8.9"><tspan font-style="italic">C</tspan><tspan font-size="7" dy="-2.6">*</tspan><tspan dy="2.6" dx="1.5"> = 0.15</tspan></text>
<rect x="248.3" y="483.5" width="162.7" height="103" fill="#fff" stroke="#3a3a3a" stroke-width="1"/>
<clipPath id="c2"><rect x="248.3" y="483.5" width="162.7" height="103"/></clipPath>
<polyline points="247.79,581.2 261.09,581.15 265.01,581.08 268.05,580.97 270.71,580.8 272.99,580.55 275.02,580.22 276.79,579.79 278.18,579.34 279.58,578.76 280.84,578.1 282.11,577.3 283.38,576.34 284.77,575.11 286.03,573.86 288.82,570.95 290.21,569.68 291.1,569.03 291.86,568.62 292.62,568.36 293.38,568.27 294.14,568.34 294.9,568.58 295.66,568.97 296.42,569.5 297.18,570.13 297.94,570.85 301.1,574.14 302.62,575.6 304.27,576.95 305.15,577.57 306.04,578.12 306.93,578.59 307.94,579.05 308.95,579.44 309.97,579.76 312.25,580.3 314.91,580.68 317.44,580.89 320.35,581.03 324.15,581.13 329.21,581.17 412.41,581.2" fill="none" stroke="#f00" stroke-width="2.6" stroke-linejoin="round" clip-path="url(#c2)"/>
<polyline points="247.79,581.2 304.02,581.18 306.17,581.11 307.69,580.97 308.83,580.72 309.33,580.54 309.84,580.29 310.47,579.85 310.98,579.34 311.49,578.65 311.99,577.72 312.37,576.81 312.75,575.69 313.13,574.31 313.51,572.63 314.15,569.07 314.78,564.46 316.3,550.55 316.8,546.4 317.06,544.76 317.31,543.51 317.56,542.71 317.69,542.49 317.82,542.4 317.94,542.44 318.07,542.61 318.32,543.31 318.58,544.47 318.83,546.04 319.34,550.1 320.48,560.77 320.98,565.07 321.62,569.55 322,571.74 322.38,573.57 322.76,575.08 323.14,576.32 323.52,577.32 324.02,578.35 324.53,579.12 325.04,579.69 325.67,580.18 326.43,580.57 327.44,580.87 328.58,581.04 330.23,581.14 332.63,581.19 412.41,581.2" fill="none" stroke="#0f0" stroke-width="2.6" stroke-linejoin="round" clip-path="url(#c2)"/>
<polyline points="247.79,581.2 317.56,581.19 318.96,581.14 319.72,581.01 320.22,580.8 320.48,580.61 320.73,580.34 321.11,579.67 321.49,578.51 321.74,577.28 322,575.51 322.38,571.34 322.76,564.42 323.14,553.5 323.39,543.52 324.28,499.55 324.53,491.59 324.66,489.77 324.78,489.61 324.91,491.1 325.16,498.54 326.05,542.41 326.3,552.6 326.68,563.83 327.06,570.98 327.31,574.1 327.57,576.3 327.82,577.83 328.07,578.89 328.45,579.89 328.83,580.46 329.34,580.86 329.85,581.04 330.61,581.15 332,581.19 412.41,581.2" fill="none" stroke="#00f" stroke-width="2.6" stroke-linejoin="round" clip-path="url(#c2)"/>
<line x1="248.3" y1="581.2" x2="252.3" y2="581.2" stroke="#3a3a3a" stroke-width="1" />
<text x="244.6" y="585.1" font-size="11" text-anchor="end" fill="#000" >0.0</text>
<line x1="248.3" y1="557.25" x2="252.3" y2="557.25" stroke="#3a3a3a" stroke-width="1" />
<text x="244.6" y="561.15" font-size="11" text-anchor="end" fill="#000" >0.1</text>
<line x1="248.3" y1="533.3" x2="252.3" y2="533.3" stroke="#3a3a3a" stroke-width="1" />
<text x="244.6" y="537.2" font-size="11" text-anchor="end" fill="#000" >0.2</text>
<line x1="248.3" y1="509.35" x2="252.3" y2="509.35" stroke="#3a3a3a" stroke-width="1" />
<text x="244.6" y="513.25" font-size="11" text-anchor="end" fill="#000" >0.3</text>
<line x1="248.3" y1="485.4" x2="252.3" y2="485.4" stroke="#3a3a3a" stroke-width="1" />
<text x="244.6" y="489.3" font-size="11" text-anchor="end" fill="#000" >0.4</text>
<line x1="248.3" y1="569.23" x2="250.5" y2="569.23" stroke="#3a3a3a" stroke-width="1" />
<line x1="248.3" y1="545.28" x2="250.5" y2="545.28" stroke="#3a3a3a" stroke-width="1" />
<line x1="248.3" y1="521.33" x2="250.5" y2="521.33" stroke="#3a3a3a" stroke-width="1" />
<line x1="248.3" y1="497.38" x2="250.5" y2="497.38" stroke="#3a3a3a" stroke-width="1" />
<line x1="259.19" y1="586.5" x2="259.19" y2="582.5" stroke="#3a3a3a" stroke-width="1" />
<line x1="259.19" y1="483.5" x2="259.19" y2="487.5" stroke="#3a3a3a" stroke-width="1" />
<text x="258.99" y="599.4" font-size="10.7" text-anchor="middle" fill="#000" >-70</text>
<line x1="294.65" y1="586.5" x2="294.65" y2="582.5" stroke="#3a3a3a" stroke-width="1" />
<line x1="294.65" y1="483.5" x2="294.65" y2="487.5" stroke="#3a3a3a" stroke-width="1" />
<text x="294.45" y="599.4" font-size="10.7" text-anchor="middle" fill="#000" >-35</text>
<line x1="330.1" y1="586.5" x2="330.1" y2="582.5" stroke="#3a3a3a" stroke-width="1" />
<line x1="330.1" y1="483.5" x2="330.1" y2="487.5" stroke="#3a3a3a" stroke-width="1" />
<text x="330.1" y="599.4" font-size="10.7" text-anchor="middle" fill="#000" >0</text>
<line x1="365.56" y1="586.5" x2="365.56" y2="582.5" stroke="#3a3a3a" stroke-width="1" />
<line x1="365.56" y1="483.5" x2="365.56" y2="487.5" stroke="#3a3a3a" stroke-width="1" />
<text x="365.56" y="599.4" font-size="10.7" text-anchor="middle" fill="#000" >35</text>
<line x1="401.01" y1="586.5" x2="401.01" y2="582.5" stroke="#3a3a3a" stroke-width="1" />
<line x1="401.01" y1="483.5" x2="401.01" y2="487.5" stroke="#3a3a3a" stroke-width="1" />
<text x="401.01" y="599.4" font-size="10.7" text-anchor="middle" fill="#000" >70</text>
<line x1="276.92" y1="586.5" x2="276.92" y2="584.3" stroke="#3a3a3a" stroke-width="1" />
<line x1="276.92" y1="483.5" x2="276.92" y2="485.7" stroke="#3a3a3a" stroke-width="1" />
<line x1="312.37" y1="586.5" x2="312.37" y2="584.3" stroke="#3a3a3a" stroke-width="1" />
<line x1="312.37" y1="483.5" x2="312.37" y2="485.7" stroke="#3a3a3a" stroke-width="1" />
<line x1="347.83" y1="586.5" x2="347.83" y2="584.3" stroke="#3a3a3a" stroke-width="1" />
<line x1="347.83" y1="483.5" x2="347.83" y2="485.7" stroke="#3a3a3a" stroke-width="1" />
<line x1="383.28" y1="586.5" x2="383.28" y2="584.3" stroke="#3a3a3a" stroke-width="1" />
<line x1="383.28" y1="483.5" x2="383.28" y2="485.7" stroke="#3a3a3a" stroke-width="1" />
<text transform="translate(318.6,612.9) scale(0.9,1)" font-size="14.5">C/C<tspan font-size="11" dy="-2.6">*</tspan></text>
<text transform="translate(224,582.3) rotate(-90)" font-size="13.1">-d[I(t)/P]/d(C/C*)</text>
<rect x="337.3" y="491.9" width="65.2" height="60.2" fill="#000"/>
<rect x="334.6" y="489.2" width="65.2" height="60.2" fill="#fff" stroke="#000" stroke-width="1"/>
<line x1="335.9" y1="496.5" x2="357.8" y2="496.5" stroke="#f00" stroke-width="2" />
<text x="359.9" y="499.7" font-size="8.9"><tspan font-style="italic">t</tspan><tspan dx="1.6">= 1 day</tspan></text>
<line x1="335.9" y1="508.1" x2="357.8" y2="508.1" stroke="#0f0" stroke-width="2" />
<text x="359.9" y="511.3" font-size="8.9"><tspan font-style="italic">t</tspan><tspan dx="1.6">= 3 days</tspan></text>
<line x1="335.9" y1="519.7" x2="357.8" y2="519.7" stroke="#00f" stroke-width="2" />
<text x="359.9" y="522.9" font-size="8.9"><tspan font-style="italic">t</tspan><tspan dx="1.6">= 7 days</tspan></text>
<text x="337.2" y="534.8" font-size="8.9"><tspan font-style="italic">m</tspan> = 2660.2</text>
<text x="337.2" y="546.5" font-size="8.9"><tspan font-style="italic">C</tspan><tspan font-size="7" dy="-2.6">*</tspan><tspan dy="2.6" dx="1"> = 0.22</tspan></text>
</svg>
</body>
</html>
